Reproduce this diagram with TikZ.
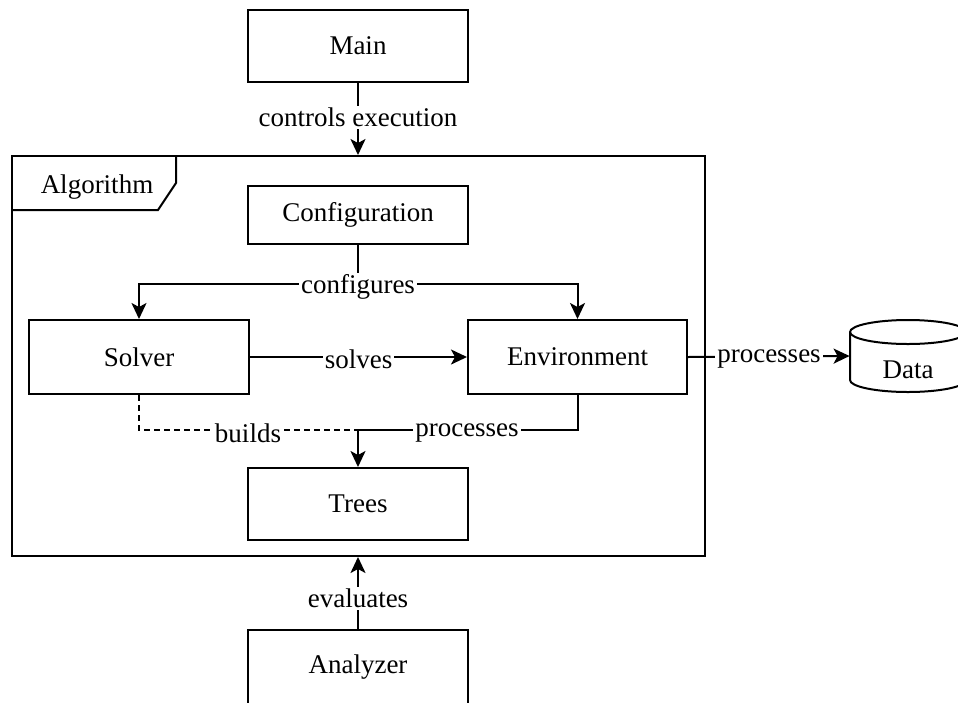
\documentclass[tikz,border=0pt]{standalone}
\usepackage{fontspec}
\setmainfont{Liberation Serif}
\usetikzlibrary{arrows.meta}
\begin{document}
\begin{tikzpicture}[x=0.5pt,y=-0.5pt,
  txt/.style={font=\fontsize{13.5}{16}\selectfont},
  box/.style={txt,draw,line width=1pt,minimum width=110pt,inner sep=0pt},
  lbl/.style={txt,fill=white,inner sep=1pt},
  conn/.style={line width=1pt},
  arr/.style={conn,-{Stealth[length=8pt,width=7.5pt,inset=2pt]}},
  dsh/.style={conn,dash pattern=on 3pt off 2pt}]
\useasboundingbox (0,0) rectangle (958,702);

% frame
\node[draw,line width=1pt,minimum width=346.5pt,minimum height=200pt,inner sep=0pt] (alg) at (358.5,356) {};
\draw[conn] (12,210) -- (158,210) -- (176,183) -- (176,156);
\node[txt] (algt) at (97,187) {Algorithm};

% boxes
\node[box,minimum height=36pt] (main) at (358,46) {Main};
\node[box,minimum height=29pt] (conf) at (358,215) {Configuration};
\node[box,minimum height=37pt] (solver) at (139,357) {Solver};
\node[box,minimum width=109.5pt,minimum height=37pt] (env) at (577.5,357) {Environment};
\node[box,minimum height=36pt] (trees) at (358,504) {Trees};
\node[box,minimum height=37pt] (anal) at (358,667) {Analyzer};

% data cylinder
\draw[conn,fill=white] (850,332) -- (850,380)
  arc[start angle=180,end angle=0,x radius=58,y radius=12] -- (966,332)
  arc[start angle=0,end angle=-180,x radius=58,y radius=12] -- cycle;
\draw[conn] (850,332) arc[start angle=180,end angle=0,x radius=58,y radius=12];
\node[minimum width=58pt,minimum height=36pt,inner sep=0pt] (data) at (908,356) {};
\node[txt] (datat) at (908,370) {Data};

% connectors
\draw[arr] (main.south) -- (main.south |- alg.north);
\node[lbl] at (358,117) {controls execution};

\coordinate (cj) at (358,284);
\draw[conn] (conf.south) -- (cj);
\draw[arr] (cj) -| (solver.north);
\draw[arr] (cj) -| (env.north);
\node[lbl] at (358,287) {configures};

\draw[arr] (solver.east) -- (env.west);
\node[lbl] at (358.5,359) {solves};

\coordinate (tj) at (358,430);
\draw[dsh] (solver.south) |- (tj);
\draw[conn] (env.south) |- (tj);
\draw[arr] (tj) -- (trees.north);
\node[lbl] at (248,433) {builds};
\node[lbl] at (467,433) {processes};

\draw[arr] (env.east) -- (data.west);
\node[lbl] at (769,359) {processes};

\draw[arr] (anal.north) -- (anal.north |- alg.south);
\node[lbl] at (358,598) {evaluates};
\end{tikzpicture}
\end{document}
